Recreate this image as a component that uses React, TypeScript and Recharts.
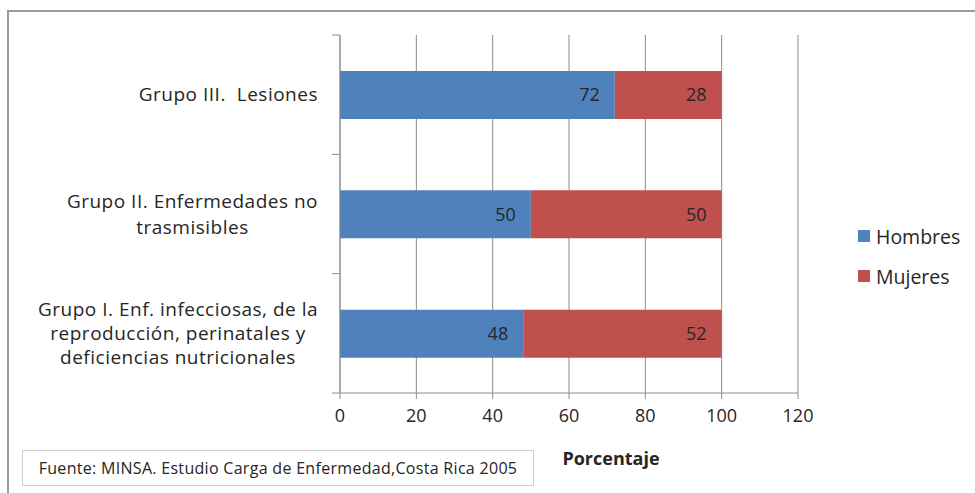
import React from 'react';
import {
  BarChart,
  Bar,
  XAxis,
  YAxis,
  CartesianGrid,
  Legend,
  LabelList,
} from 'recharts';

const categories = [
  'Grupo III.  Lesiones',
  'Grupo II. Enfermedades no\ntrasmisibles',
  'Grupo I. Enf. infecciosas, de la\nreproducción, perinatales y\ndeficiencias nutricionales',
];
const hombres = [72, 50, 48];
const mujeres = [28, 50, 52];
const xTicks = [0, 20, 40, 60, 80, 100, 120];

const data = categories.map((name, i) => ({
  name,
  Hombres: hombres[i],
  Mujeres: mujeres[i],
}));

const FONT = '"Open Sans", Lato, sans-serif';
const TEXT = '#262626';
const LINE = '#8c8c8c';
const BLUE = '#4f81bd';
const RED = '#c0504d';

const TICK_SIZE = 8;
const TICK_MARGIN = 14;
const CAT_FONT = 19;
const CAT_SPACING = 0.5;

let ctx: CanvasRenderingContext2D | null = null;
function measure(s: string, font: string) {
  if (!ctx) ctx = document.createElement('canvas').getContext('2d');
  if (!ctx) return s.length * 9;
  ctx.font = font;
  return ctx.measureText(s).width + s.length * CAT_SPACING;
}

function CategoryTick(props: any) {
  const { x, y, payload } = props;
  const lines = String(payload.value).split('\n');
  const half = payload.offset ?? 59.5;
  const w = Math.max(...lines.map((l) => measure(l, `${CAT_FONT}px ${FONT}`)));
  const cx = x - w / 2;
  const lh = lines.length === 2 ? 26 : 24;
  const y0 = y - ((lines.length - 1) * lh) / 2;
  const ax = x + TICK_MARGIN;
  const idx = props.index ?? payload.index;
  return (
    <g>
      <line x1={ax} x2={ax + TICK_SIZE} y1={y - half} y2={y - half} stroke={LINE} />
      {idx === categories.length - 1 ? (
        <line x1={ax} x2={ax + TICK_SIZE} y1={y + half} y2={y + half} stroke={LINE} />
      ) : null}
      <text
        x={cx}
        y={y0}
        textAnchor="middle"
        fontSize={CAT_FONT}
        fontFamily={FONT}
        fill={TEXT}
        style={{ whiteSpace: 'pre', letterSpacing: CAT_SPACING }}
      >
        {lines.map((l, i) => (
          <tspan key={i} x={cx} dy={i === 0 ? '0.35em' : lh}>
            {l}
          </tspan>
        ))}
      </text>
    </g>
  );
}

function LegendContent(props: any) {
  const { payload } = props;
  return (
    <div style={{ fontFamily: FONT, fontSize: 19.5, color: TEXT }}>
      {(payload || []).map((p: any) => (
        <div key={p.value} style={{ display: 'flex', alignItems: 'center', height: 40 }}>
          <span style={{ width: 12, height: 12, background: p.color, marginRight: 6 }} />
          <span>{p.value}</span>
        </div>
      ))}
    </div>
  );
}

export default function App() {
  return (
    <div style={{ position: 'absolute', left: 0, top: 0, width: 975, height: 493, background: '#fff', fontFamily: FONT }}>
      <div
        style={{
          position: 'absolute',
          left: 7,
          top: 10,
          right: 0,
          bottom: 0,
          borderTop: `2px solid #9a9a9a`,
          borderLeft: `2px solid #9a9a9a`,
        }}
      />
      <BarChart
        width={975}
        height={493}
        data={data}
        layout="vertical"
        margin={{ top: 35, right: 177, left: 0, bottom: 20 }}
        barSize={48}
      >
        <CartesianGrid horizontal={false} stroke={LINE} strokeWidth={1} />
        <XAxis
          type="number"
          domain={[0, 120]}
          ticks={xTicks}
          interval={0}
          height={80}
          stroke={LINE}
          tickSize={6}
          tickMargin={10}
          tick={{ fontSize: 18, fill: TEXT, fontFamily: FONT }}
          label={{
            value: 'Porcentaje',
            position: 'insideBottom',
            offset: 8,
            dx: 42,
            fontSize: 18,
            fontWeight: 700,
            fill: TEXT,
            fontFamily: FONT,
          }}
        />
        <YAxis
          type="category"
          dataKey="name"
          width={340}
          stroke={LINE}
          tickLine={false}
          tickSize={TICK_SIZE}
          tickMargin={TICK_MARGIN}
          interval={0}
          tick={<CategoryTick />}
        />
        <Legend
          layout="horizontal"
          align="center"
          verticalAlign="middle"
          content={<LegendContent />}
          wrapperStyle={{ position: 'absolute', left: 858, top: 216, width: 115 }}
        />
        <Bar dataKey="Hombres" stackId="a" fill={BLUE} isAnimationActive={false}>
          <LabelList dataKey="Hombres" position="insideRight" offset={15} fontSize={18} fill={TEXT} fontFamily={FONT} />
        </Bar>
        <Bar dataKey="Mujeres" stackId="a" fill={RED} isAnimationActive={false}>
          <LabelList dataKey="Mujeres" position="insideRight" offset={15} fontSize={18} fill={TEXT} fontFamily={FONT} />
        </Bar>
      </BarChart>
      <div
        style={{
          position: 'absolute',
          left: 22,
          top: 450,
          width: 512,
          height: 36,
          border: '1.5px solid #cfcfcf',
          boxSizing: 'border-box',
          display: 'flex',
          alignItems: 'center',
          justifyContent: 'center',
          fontSize: 16,
          letterSpacing: 0.3,
          color: TEXT,
          fontFamily: FONT,
        }}
      >
        Fuente: MINSA. Estudio Carga de Enfermedad,Costa Rica 2005
      </div>
    </div>
  );
}
